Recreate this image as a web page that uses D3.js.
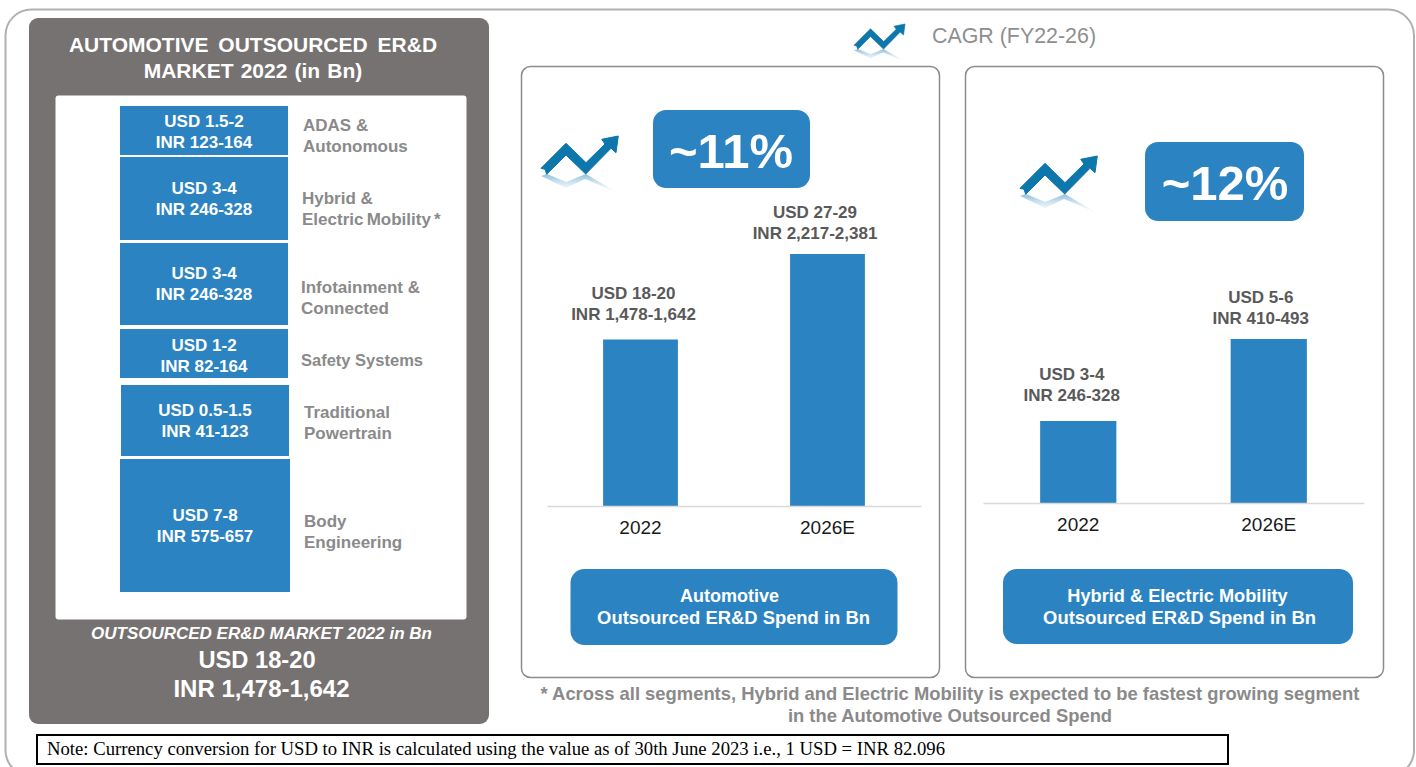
<!DOCTYPE html>
<html><head><meta charset="utf-8">
<script src="https://cdnjs.cloudflare.com/ajax/libs/d3/7.8.5/d3.min.js"></script>
<style>html,body{margin:0;padding:0;background:#fff;overflow:hidden}text{font-family:"Liberation Sans",Arial,sans-serif}</style>
</head><body><svg id="c" width="1416" height="767"></svg>
<script>
// ---- data ----
const segmentNames = [["ADAS &","Autonomous"],["Hybrid &","Electric Mobility *"],["Infotainment &","Connected"],["Safety Systems"],["Traditional","Powertrain"],["Body","Engineering"]];
const segmentUsd = ["USD 1.5-2","USD 3-4","USD 3-4","USD 1-2","USD 0.5-1.5","USD 7-8"];
const segmentInr = ["INR 123-164","INR 246-328","INR 246-328","INR 82-164","INR 41-123","INR 575-657"];
const segmentSizes = [49,83,82,49,71,133];
const yearLabels = ["2022","2026E"];
const autoValues = [18.5,28];
const autoUsd = ["USD 18-20","USD 27-29"];
const autoInr = ["INR 1,478-1,642","INR 2,217-2,381"];
const hybridValues = [3,6];
const hybridUsd = ["USD 3-4","USD 5-6"];
const hybridInr = ["INR 246-328","INR 410-493"];

const BLUE="#2b83c1", GREY="#767271", LABEL="#8a8a8a", DARK="#595959";
const svg=d3.select("#c");
const defs=svg.append("defs");
const grad=defs.append("linearGradient").attr("id","refl").attr("x1",0).attr("y1",0).attr("x2",0).attr("y2",1);
grad.append("stop").attr("offset",0).attr("stop-color","#7fb6d6").attr("stop-opacity",.9);
grad.append("stop").attr("offset",1).attr("stop-color","#cfe4f1").attr("stop-opacity",.05);

function rrect(g,x,y,w,h,r,fill,stroke,sw){return g.append("rect").attr("x",x).attr("y",y).attr("width",w).attr("height",h).attr("rx",r).attr("fill",fill).attr("stroke",stroke||"none").attr("stroke-width",sw||0);}
function txt(g,x,y,s,size,fill,o={}){return g.append("text").attr("x",x).attr("y",y).attr("text-anchor",o.anchor||"middle").attr("font-size",size).attr("font-weight",o.weight||"bold").attr("font-style",o.style||"normal").attr("fill",fill).style("font-family",o.family||null).style("word-spacing",o.ws!=null?o.ws+"px":null).text(s);}

// frame
rrect(svg,5.5,9.5,1408.5,766.5,26,"#fff","#b0b0b0",2);
// left panel
rrect(svg,29,18,460,706,9,GREY);
rrect(svg,55.5,95.5,411,524,3,"#fff");
txt(svg,253,52,"AUTOMOTIVE OUTSOURCED ER&D",21,"#fff",{ws:4});
txt(svg,253,78,"MARKET 2022 (in Bn)",21,"#fff",{ws:1.3});
txt(svg,261.5,639,"OUTSOURCED ER&D MARKET 2022 in Bn",17,"#fff",{style:"italic"});
txt(svg,257,668,"USD 18-20",23.7,"#fff");
txt(svg,261.5,697,"INR 1,478-1,642",24,"#fff");

// stacked segments
const gaps=[0,2,3,4,7,3];
const segY=d3.scaleLinear().domain([0,d3.sum(segmentSizes)]).range([0,d3.sum(segmentSizes)]);
const segData=[];let acc=0,gapAcc=0;
segmentSizes.forEach((v,i)=>{gapAcc+=gaps[i];segData.push({i,v,y0:acc,gap:gapAcc});acc+=v;});
const sx=[120,120,120,120,121,120],sw=[168,168,168,168,168,170];
const sOff=106;
const seg=svg.append("g").selectAll("g").data(segData).join("g");
seg.append("rect").attr("x",d=>sx[d.i]).attr("width",d=>sw[d.i]).attr("y",d=>sOff+d.gap+segY(d.y0)).attr("height",d=>segY(d.v)).attr("fill",BLUE);
const usdY=[127,194,279,351,416,521], labX=[204,204,204,204,205,205];
const nameX=[303,302,301,301,304,304], nameY=[131,204,293,366,418,527];
seg.each(function(d){const g=d3.select(this);
 txt(g,labX[d.i],usdY[d.i],segmentUsd[d.i],17,"#fff");
 txt(g,labX[d.i],usdY[d.i]+21,segmentInr[d.i],17,"#fff");
 segmentNames[d.i].forEach((t,k)=>txt(g,nameX[d.i],nameY[d.i]+k*20.5,t,d.i===3?16.5:17,LABEL,{anchor:"start",ws:t.startsWith("Electric")?-1.5:null}));
});

// header legend
txt(svg,932,43,"CAGR (FY22-26)",21.4,"#8f8f8f",{anchor:"start",weight:"normal"});

// cards
rrect(svg,521.5,66.5,418,611,9,"#fff","#8c8c8c",1.5);
rrect(svg,965.5,66.5,418,611,9,"#fff","#8c8c8c",1.5);

function icon(x,y,k){const g=svg.append("g").attr("transform",`translate(${x},${y}) scale(${k})`);
 g.append("path").attr("d","M0,40 L25,52 L44,43 L77,57 L45,38 L25,46 L6,38 Z").attr("fill","url(#refl)");
 g.append("path").attr("d","M0,32.3 L25,7.3 L45,26.7 L64,8 L60.7,3.3 L77.3,0 L75,16.7 L70,12.3 L44.7,38 L25,19 L5.7,38.3 L4,33.3 Z").attr("fill","#0d76ab").attr("stroke","#0d76ab").attr("stroke-width",1);
 return g;}
icon(854,24,0.66); icon(541,136,1); icon(1020,156,1);

function card(cfg){
 const x=d3.scaleBand().domain(yearLabels).range(cfg.xr).paddingInner(.6).paddingOuter(.3);
 const y=d3.scaleLinear().domain([0,d3.max(cfg.values)]).range([cfg.base,cfg.top]);
 const g=svg.append("g");
 g.selectAll("rect").data(cfg.values).join("rect").attr("x",(d,i)=>x(yearLabels[i])).attr("width",x.bandwidth()).attr("y",d=>y(d)).attr("height",d=>y(0)-y(d)).attr("fill",BLUE);
 const ax=g.append("g").attr("transform",`translate(0,${cfg.base})`).call(d3.axisBottom(x).tickSize(0).tickPadding(cfg.pad));
 ax.select(".domain").attr("stroke","#d9d9d9").attr("stroke-width",1.5);
 ax.selectAll("text").attr("font-size",19).attr("fill","#1a1a1a").style("font-family",'"Liberation Sans",Arial,sans-serif');
 cfg.values.forEach((v,i)=>{const cx=x(yearLabels[i])+x.bandwidth()/2+cfg.dx[i];
  txt(g,cx,y(v)-cfg.gap[i]-21,cfg.usd[i],17,DARK);
  txt(g,cx,y(v)-cfg.gap[i],cfg.inr[i],17,DARK);});
}
card({xr:[547,921],base:506,top:254,values:autoValues,usd:autoUsd,inr:autoInr,pad:15,gap:[20,15],dx:[-7,-12.5]});
card({xr:[983,1364],base:503,top:339,values:hybridValues,usd:hybridUsd,inr:hybridInr,pad:15,gap:[20,15],dx:[-6.5,-8]});

// CAGR badges
rrect(svg,653,110,157,78,13,BLUE);
txt(svg,731,168,"~11%",49,"#fff");
rrect(svg,1145,142,159,79,13,BLUE);
txt(svg,1225,200,"~12%",49,"#fff");
// captions
rrect(svg,570.5,569,327,76,14,BLUE);
txt(svg,729.5,602,"Automotive",18,"#fff");
txt(svg,733.5,624,"Outsourced ER&D Spend in Bn",18.4,"#fff");
rrect(svg,1003,569,350,75,14,BLUE);
txt(svg,1177.5,602,"Hybrid & Electric Mobility",18.2,"#fff");
txt(svg,1179.5,624,"Outsourced ER&D Spend in Bn",18.4,"#fff");
// footnote
txt(svg,950,700,"* Across all segments, Hybrid and Electric Mobility is expected to be fastest growing segment",18.4,LABEL);
txt(svg,950,722,"in the Automotive Outsourced Spend",18.4,LABEL);
// note
svg.append("rect").attr("x",37).attr("y",735).attr("width",1191).attr("height",29).attr("fill","#fff").attr("stroke","#000").attr("stroke-width",2);
txt(svg,47,755,"Note: Currency conversion for USD to INR is calculated using the value as of 30th June 2023 i.e., 1 USD = INR 82.096",18.7,"#000",{anchor:"start",weight:"normal",family:'"Liberation Serif",serif'});
</script></body></html>
